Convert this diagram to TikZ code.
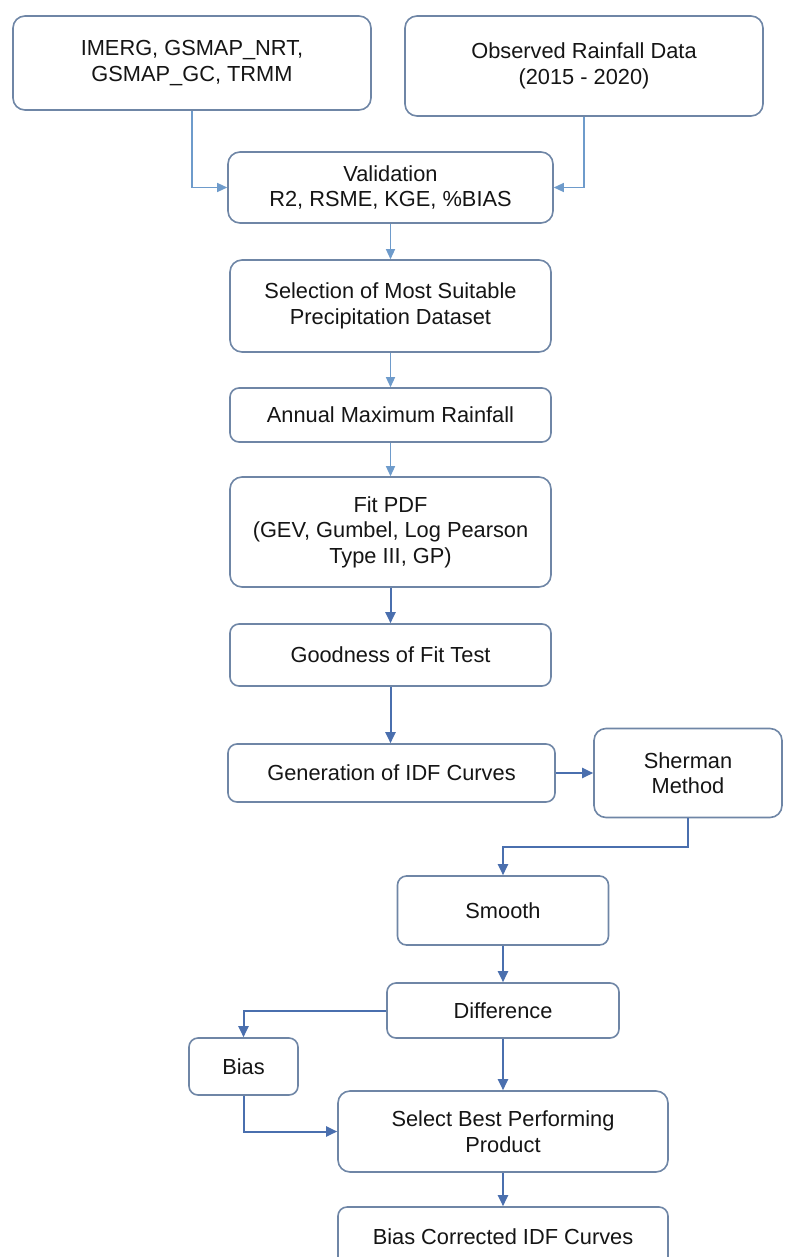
\documentclass[tikz,border=0pt]{standalone}
\usepackage{fontspec}
\setmainfont{Liberation Sans}
\usetikzlibrary{arrows.meta,calc}
\definecolor{boxline}{HTML}{6F86A6}
\definecolor{arrowlight}{HTML}{6E9BCB}
\definecolor{arrowdark}{HTML}{4A6FAE}
\definecolor{txt}{HTML}{151515}
\begin{document}
\begin{tikzpicture}[x=1pt,y=-1pt,
  box/.style={draw=boxline, line width=1.6pt, rounded corners=12pt, fill=white,
    align=center, inner sep=0pt, text=txt,
    font=\fontsize{21.8}{25.5}\selectfont},
  smallbox/.style={box, rounded corners=9pt},
  arl/.style={draw=arrowlight, line width=1.3pt, -{Triangle[length=10pt,width=9pt]}},
  ard/.style={draw=arrowdark, line width=2pt, -{Triangle[length=11pt,width=10pt]}}]
\useasboundingbox (0,0) rectangle (784,1257);
\clip (0,0) rectangle (784,1257);
\fill[white] (0,0) rectangle (784,1257);

\node[box, minimum width=358pt, minimum height=94pt] (imerg) at (192,63) {IMERG, GSMAP\_NRT,\\GSMAP\_GC, TRMM};
\node[box, minimum width=358pt, minimum height=100pt] (obs) at (584,66) {Observed Rainfall Data\\(2015 - 2020)};
\node[box, minimum width=325pt, minimum height=71pt] (valid) at (390.5,187.5) {Validation\\R2, RSME, KGE, \%BIAS};
\node[box, minimum width=321pt, minimum height=92pt] (select) at (390.5,306) {Selection of Most Suitable\\Precipitation Dataset};
\node[smallbox, minimum width=321pt, minimum height=54pt] (annual) at (390.5,415) {Annual Maximum Rainfall};
\node[box, minimum width=321pt, minimum height=110pt] (fitpdf) at (390.5,532) {Fit PDF\\(GEV, Gumbel, Log Pearson\\Type III, GP)};
\node[smallbox, minimum width=321pt, minimum height=62pt] (good) at (390.5,655) {Goodness of Fit Test};
\node[smallbox, minimum width=327pt, minimum height=58pt] (gen) at (391.5,773) {Generation of IDF Curves};
\node[box, minimum width=188pt, minimum height=89pt] (sherman) at (688,773) {Sherman\\Method};
\node[smallbox, minimum width=211pt, minimum height=69pt] (smooth) at (503,910.5) {Smooth};
\node[smallbox, minimum width=232pt, minimum height=55pt] (diff) at (503,1010.5) {Difference};
\node[smallbox, minimum width=109pt, minimum height=57pt] (bias) at (243.5,1066.5) {Bias};
\node[box, minimum width=330pt, minimum height=81pt] (selbest) at (503,1131.5) {Select Best Performing\\Product};
\node[smallbox, minimum width=330pt, minimum height=60pt] (biascorr) at (503,1237) {Bias Corrected IDF Curves};

\draw[arl] (imerg.south) |- (valid.west);
\draw[arl] (obs.south) |- (valid.east);
\draw[arl] (valid.south) -- (select.north);
\draw[arl] (select.south) -- (annual.north);
\draw[arl] (annual.south) -- (fitpdf.north);
\draw[ard] (fitpdf.south) -- (good.north);
\draw[ard] (good.south) -- (good.south |- gen.north);
\draw[ard] (gen.east) -- (sherman.west);
\coordinate (shbend) at ($(sherman.south)+(0,29)$);
\draw[ard] (sherman.south) -- (shbend) -| (smooth.north);
\draw[ard] (smooth.south) -- (diff.north);
\draw[ard] (diff.west) -| (bias.north);
\draw[ard] (diff.south) -- (selbest.north);
\draw[ard] (bias.south) |- (selbest.west);
\draw[ard] (selbest.south) -- (biascorr.north);
\end{tikzpicture}
\end{document}
